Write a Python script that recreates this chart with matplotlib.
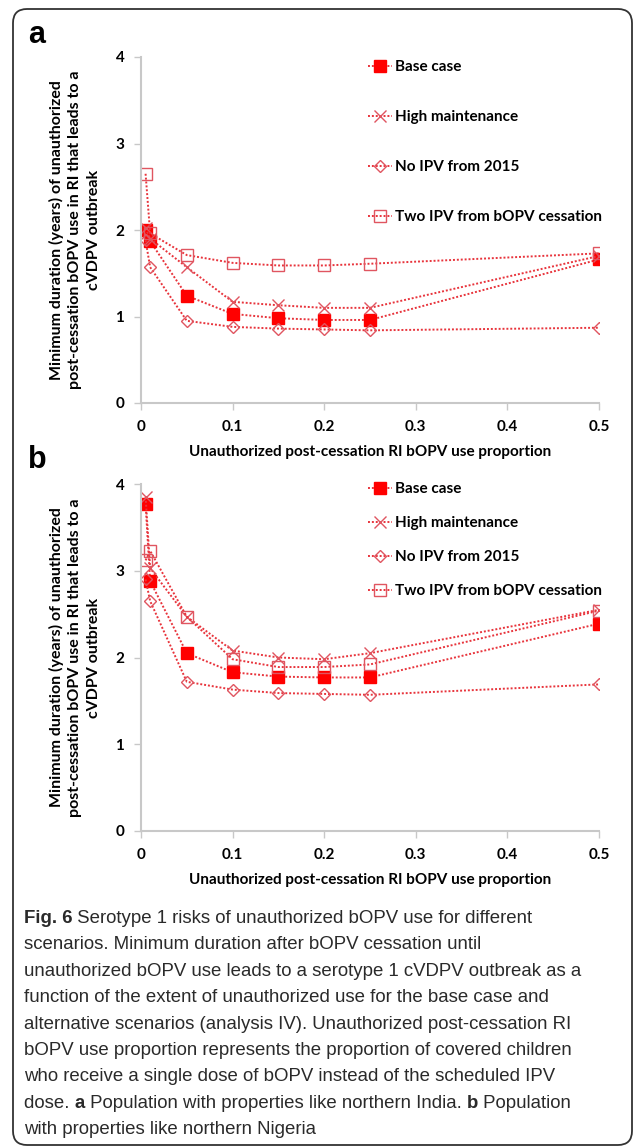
import matplotlib
matplotlib.use("Agg")
import matplotlib.pyplot as plt
import matplotlib.patches as mpatches

# ---------------------------------------------------------------------------
# Data
# ---------------------------------------------------------------------------

X = [0.005, 0.01, 0.05, 0.1, 0.15, 0.2, 0.25, 0.5]

BASE_A  = [2.00, 1.87, 1.24, 1.03, 0.98, 0.96, 0.96, 1.66]
HIGH_A  = [2.02, 1.90, 1.57, 1.17, 1.13, 1.10, 1.10, 1.70]
NOIPV_A = [1.88, 1.57, 0.95, 0.88, 0.86, 0.85, 0.84, 0.87]
TWO_A   = [2.65, 1.96, 1.71, 1.62, 1.59, 1.59, 1.61, 1.73]

BASE_B  = [3.77, 2.88, 2.05, 1.83, 1.78, 1.77, 1.77, 2.39]
HIGH_B  = [3.85, 3.03, 2.47, 2.08, 2.00, 1.98, 2.05, 2.55]
NOIPV_B = [2.90, 2.65, 1.72, 1.63, 1.59, 1.58, 1.57, 1.69]
TWO_B   = [3.12, 3.23, 2.47, 1.98, 1.89, 1.89, 1.92, 2.54]

SERIES_LABELS = ["Base case", "High maintenance", "No IPV from 2015",
                 "Two IPV from bOPV cessation"]
X_TICKS = [0, 0.1, 0.2, 0.3, 0.4, 0.5]
X_TICK_LABELS = ["0", "0.1", "0.2", "0.3", "0.4", "0.5"]
Y_TICKS = [0, 1, 2, 3, 4]

X_LABEL = "Unauthorized post-cessation RI bOPV use proportion"
Y_LABEL = ("Minimum duration (years) of unauthorized\n"
           "post-cessation bOPV use in RI that leads to a\n"
           "cVDPV outbreak")

# caption lines: list of (text, bold) parts
CAPTION = [
    [("Fig. 6", True), (" Serotype 1 risks of unauthorized bOPV use for different", False)],
    [("scenarios. Minimum duration after bOPV cessation until", False)],
    [("unauthorized bOPV use leads to a serotype 1 cVDPV outbreak as a", False)],
    [("function of the extent of unauthorized use for the base case and", False)],
    [("alternative scenarios (analysis IV). Unauthorized post-cessation RI", False)],
    [("bOPV use proportion represents the proportion of covered children", False)],
    [("who receive a single dose of bOPV instead of the scheduled IPV", False)],
    [("dose. ", False), ("a", True), (" Population with properties like northern India. ", False),
     ("b", True), (" Population", False)],
    [("with properties like northern Nigeria", False)],
]

# ---------------------------------------------------------------------------
# Styling
# ---------------------------------------------------------------------------

W, H = 634, 1147
LINE_COLOR = "#e8343c"
OPEN_COLOR = "#e05560"
AXIS_GRAY = "#c8c8c8"
CHART_FONT = ["Lato", "DejaVu Sans"]
CAPTION_FONT = ["Liberation Sans", "DejaVu Sans"]

STYLES = [
    dict(marker="s", markersize=8, color=LINE_COLOR, mfc="#ff0000", mec="#ff0000"),
    dict(marker="x", markersize=8, color=LINE_COLOR, mec=OPEN_COLOR, mew=1.0),
    dict(marker="D", markersize=6, color=LINE_COLOR, mfc="none", mec=OPEN_COLOR, mew=1.0),
    dict(marker="s", markersize=8, color=LINE_COLOR, mfc="none", mec=OPEN_COLOR, mew=1.0),
]


def px_axes(left, top, right, bottom):
    """figure-pixel box -> add_axes rect"""
    return [left / W, 1 - bottom / H, (right - left) / W, (bottom - top) / H]


def draw_panel(ax, series, legend_anchor, labelspacing):
    for ys, label, st in zip(series, SERIES_LABELS, STYLES):
        ax.plot(X, ys, linestyle=(0, (1, 1)), linewidth=1.4, label=label, **st)
    ax.set_xlim(0, 0.5)
    ax.set_ylim(0, 4)
    ax.set_xticks(X_TICKS)
    ax.set_xticklabels(X_TICK_LABELS)
    ax.set_yticks(Y_TICKS)
    for s in ("top", "right"):
        ax.spines[s].set_visible(False)
    for s in ("left", "bottom"):
        ax.spines[s].set_color(AXIS_GRAY)
        ax.spines[s].set_linewidth(1.5)
    ax.tick_params(direction="out", length=5, width=1, color=AXIS_GRAY,
                   labelsize=11, pad=7)
    for lab in ax.get_xticklabels() + ax.get_yticklabels():
        lab.set_fontweight("bold")
        lab.set_family(CHART_FONT)
    ax.set_xlabel(X_LABEL, fontsize=11, fontweight="bold", family=CHART_FONT, labelpad=8)
    ax.set_ylabel(Y_LABEL, fontsize=11.5, fontweight="bold", family=CHART_FONT,
                  labelpad=10, linespacing=1.45)
    leg = ax.legend(loc="upper left", bbox_to_anchor=legend_anchor, frameon=False,
                    handlelength=1.6, handletextpad=0.2, labelspacing=labelspacing,
                    borderaxespad=0, borderpad=0, numpoints=1,
                    prop=dict(family=CHART_FONT, weight="bold", size=11))
    return leg


fig = plt.figure(figsize=(W / 100, H / 100), dpi=100)

# background axes in pixel coordinates: border, panel letters, caption
bg = fig.add_axes([0, 0, 1, 1])
bg.set_xlim(0, W)
bg.set_ylim(H, 0)
bg.axis("off")
bg.add_patch(mpatches.FancyBboxPatch((13, 9), 619, 1136,
                                     boxstyle="round,pad=0,rounding_size=14",
                                     facecolor="white", edgecolor="#333333",
                                     linewidth=1.3, zorder=0))
bg.text(37, 35, "a", fontsize=22, fontweight="bold", family=CAPTION_FONT,
        ha="center", va="center")
bg.text(37, 460, "b", fontsize=22, fontweight="bold", family=CAPTION_FONT,
        ha="center", va="center")

ax_a = fig.add_axes(px_axes(141, 57, 599, 403))
draw_panel(ax_a, [BASE_A, HIGH_A, NOIPV_A, TWO_A], (0.495, 0.99), 2.35)

ax_b = fig.add_axes(px_axes(141, 484, 599, 831))
draw_panel(ax_b, [BASE_B, HIGH_B, NOIPV_B, TWO_B], (0.495, 1.006), 1.32)

# caption
base0, step = 923, 26.4
for i, parts in enumerate(CAPTION):
    yb = base0 + i * step
    prev = None
    for text, bold in parts:
        kw = dict(fontsize=13.4, family=CAPTION_FONT, color="#2a2a2a",
                  fontweight="bold" if bold else "normal",
                  ha="left", va="baseline")
        if prev is None:
            prev = bg.text(24, yb, text, **kw)
        else:
            prev = bg.annotate(text, xy=(1, yb), xycoords=(prev, "data"), **kw)

fig.savefig("out.png", dpi=100, facecolor="white")
